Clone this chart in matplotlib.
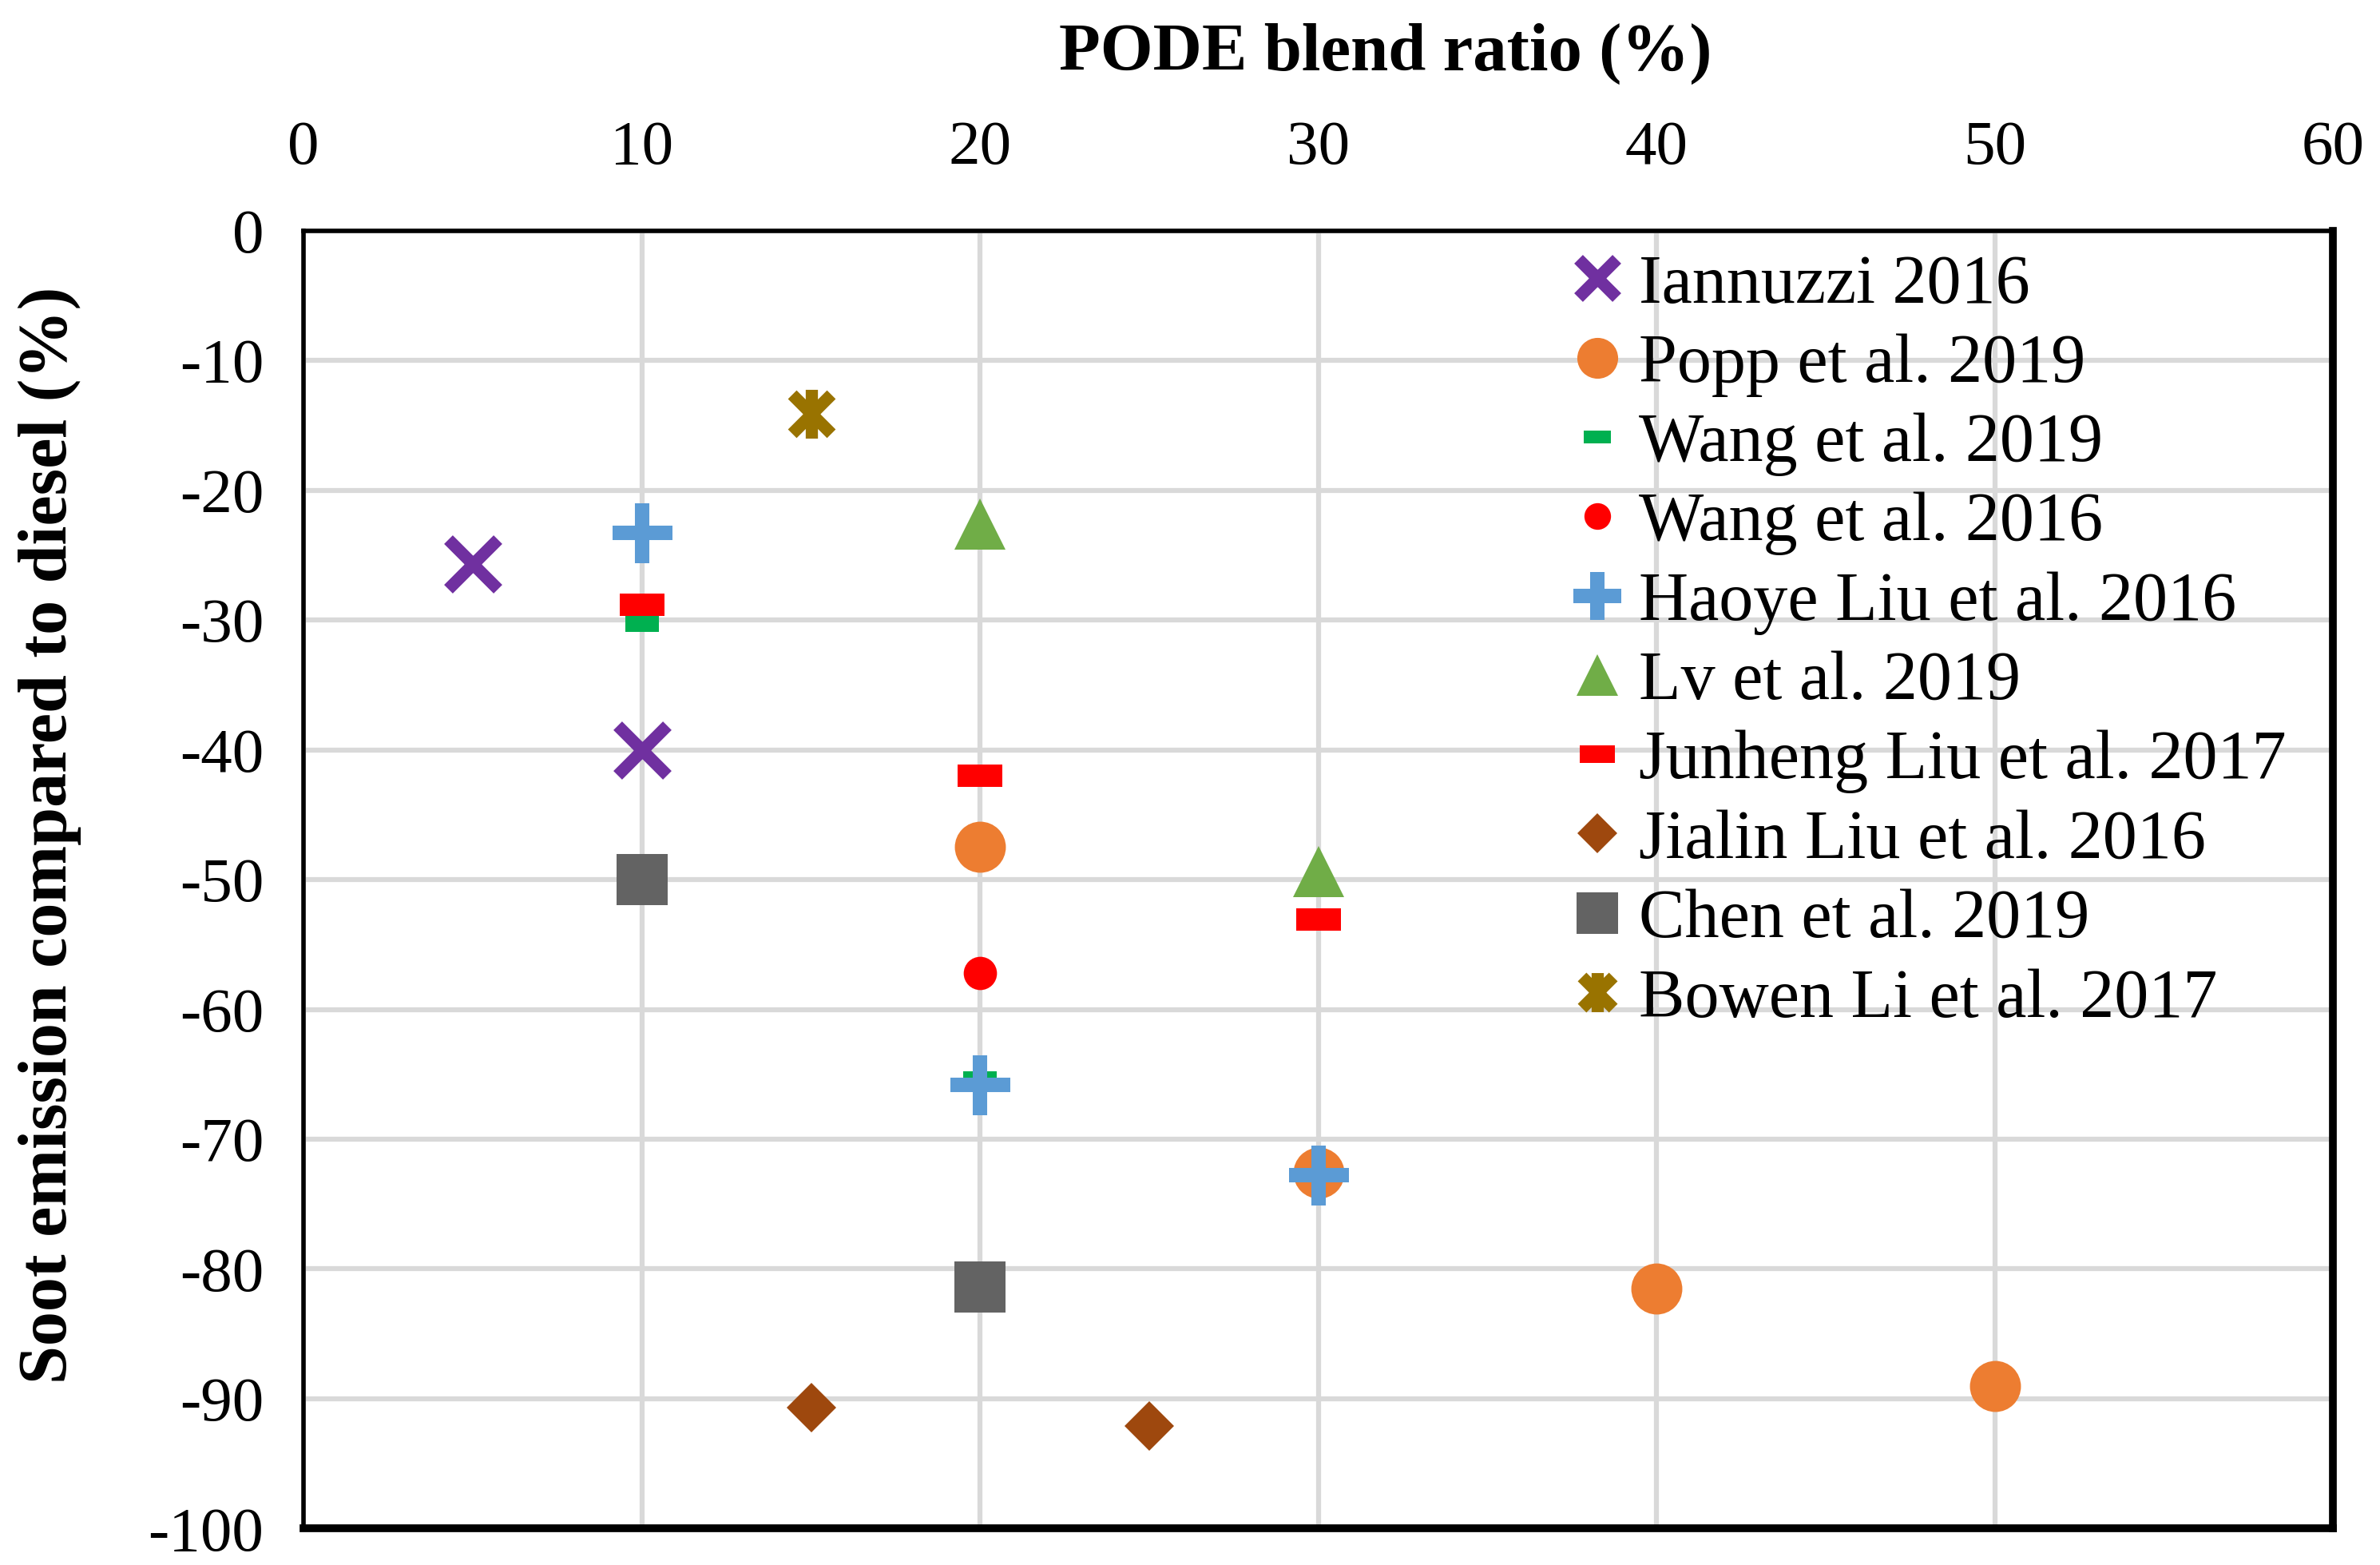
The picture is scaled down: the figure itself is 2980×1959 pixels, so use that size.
import matplotlib.pyplot as plt
from matplotlib.path import Path

# --- Data ------------------------------------------------------------------
iannuzzi_x = [5, 10]
iannuzzi_y = [-25.7, -40]

popp_x = [20, 30, 40, 50]
popp_y = [-47.5, -72.6, -81.5, -89.0]

wang19_x = [10, 20]
wang19_y = [-30.3, -65.4]

wang16_x = [20]
wang16_y = [-57.2]

haoye_x = [10, 20, 30]
haoye_y = [-23.3, -65.8, -72.8]

lv_x = [20, 30]
lv_y = [-22.6, -49.4]

junheng_x = [10, 20, 30]
junheng_y = [-28.8, -42.0, -53.1]

jialin_x = [15, 25]
jialin_y = [-90.7, -92.1]

chen_x = [10, 20]
chen_y = [-50, -81.4]

bowen_x = [15]
bowen_y = [-14.1]

x_ticks = [0, 10, 20, 30, 40, 50, 60]
y_ticks = [0, -10, -20, -30, -40, -50, -60, -70, -80, -90, -100]

# --- Custom markers ----------------------------------------------------------
DASH = [(-1, -0.5), (1, -0.5), (1, 0.5), (-1, 0.5), (-1, -0.5)]
STAR = Path([(-1, -1), (1, 1), (-1, 1), (1, -1), (0, -1.25), (0, 1.25)],
            [Path.MOVETO, Path.LINETO, Path.MOVETO, Path.LINETO, Path.MOVETO, Path.LINETO])

plt.rcParams['font.family'] = ['Liberation Serif', 'DejaVu Serif']
plt.rcParams['axes.unicode_minus'] = False

fig = plt.figure(figsize=(29.8, 19.59), dpi=100)
ax = fig.add_axes([0.1276, 0.0233, 0.8527, 0.8293])

series = [
    ("Iannuzzi 2016", iannuzzi_x, iannuzzi_y,
     dict(marker="x", color="#7030A0", ms=44, mew=11)),
    ("Popp et al. 2019", popp_x, popp_y,
     dict(marker="o", color="#ED7D31", ms=46, mew=0)),
    ("Wang et al. 2019", wang19_x, wang19_y,
     dict(marker=DASH, color="#00B050", ms=30, mew=0)),
    ("Wang et al. 2016", wang16_x, wang16_y,
     dict(marker="o", color="#FF0000", ms=30, mew=0)),
    ("Haoye Liu et al. 2016", haoye_x, haoye_y,
     dict(marker="+", color="#5B9BD5", ms=54, mew=13)),
    ("Lv et al. 2019", lv_x, lv_y,
     dict(marker="^", color="#70AD47", ms=46, mew=0)),
    ("Junheng Liu et al. 2017", junheng_x, junheng_y,
     dict(marker=DASH, color="#FF0000", ms=40, mew=0)),
    ("Jialin Liu et al. 2016", jialin_x, jialin_y,
     dict(marker="D", color="#9E480E", ms=32, mew=0)),
    ("Chen et al. 2019", chen_x, chen_y,
     dict(marker="s", color="#636363", ms=46, mew=0)),
    ("Bowen Li et al. 2017", bowen_x, bowen_y,
     dict(marker=STAR, color="#997300", ms=44, mew=11, fillstyle="none")),
]

for label, xs, ys, style in series:
    ax.plot(xs, ys, linestyle="None", label=label, zorder=3,
            markeredgecolor=style["color"], **style)

ax.set_xlim(0, 60)
ax.set_ylim(-100, 0)
ax.set_xticks(x_ticks)
ax.set_yticks(y_ticks)
ax.xaxis.tick_top()
ax.tick_params(axis="both", length=0, labelsize=57)
ax.tick_params(axis="x", pad=48)
ax.tick_params(axis="y", pad=36)

ax.grid(True, color="#D9D9D9", linewidth=4.5, zorder=0)
ax.set_axisbelow(True)

for side in ["left", "top"]:
    ax.spines[side].set_linewidth(4)
for side in ["right", "bottom"]:
    ax.spines[side].set_linewidth(7)
for sp in ax.spines.values():
    sp.set_color("black")
    sp.set_zorder(5)

ax.xaxis.set_label_position("top")
ax.set_xlabel("PODE blend ratio (%)", fontsize=61, fontweight="bold", va="center")
ax.xaxis.set_label_coords(0.533, 1.136)
ax.set_ylabel("Soot emission compared to diesel (%)", fontsize=62, fontweight="bold",
              va="center")
ax.yaxis.set_label_coords(-0.125, 0.534)

ax.legend(loc="upper left", bbox_to_anchor=(0.624, 0.982), frameon=False,
          fontsize=62, markerscale=0.8, handlelength=0.8, handletextpad=0.2,
          labelspacing=0.23, borderpad=0, borderaxespad=0)

fig.savefig("out.png", dpi=100)
